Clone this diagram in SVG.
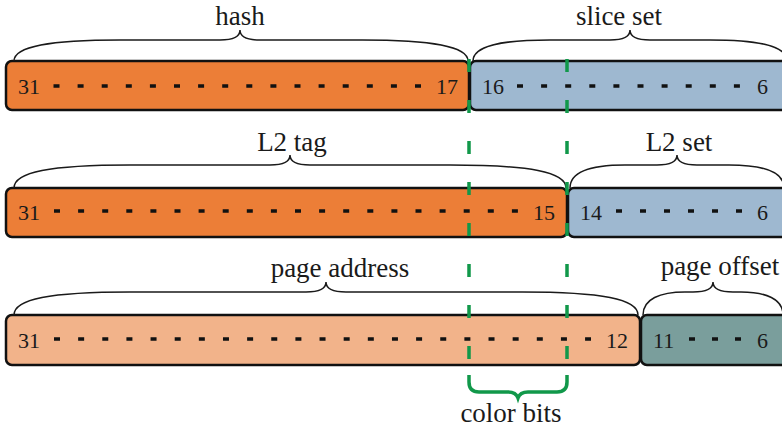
<svg xmlns="http://www.w3.org/2000/svg" width="782" height="427" viewBox="0 0 782 427">
<style>
text{font-family:'Liberation Serif','Times New Roman','DejaVu Serif',serif;fill:#1a1a1a}
.lbl{font-size:27px;text-anchor:middle}
.num{font-size:22px}
.box{stroke:#111;stroke-width:2.5}
.orange{fill:#EC7E37}
.blue{fill:#9EB8D0}
.salmon{fill:#F2B38A}
.teal{fill:#7A9E9C}
.dots{stroke:#111;stroke-width:3.5;stroke-dasharray:6 18.1;fill:none}
.brace{fill:none;stroke:#1a1a1a;stroke-width:1.5}
.green{stroke:#11984A;stroke-width:3.5;fill:none}
</style>
<rect width="782" height="427" fill="#fff"/>
<g id="row1-hash">
<rect class="box orange" x="6" y="61" width="463" height="49" rx="6"/>
<text class="num" x="18" y="94" font-family="Liberation Serif, serif">31</text>
<line class="dots" x1="53.5" y1="86" x2="421.5" y2="86"/>
<text class="num" x="458" y="94" text-anchor="end" font-family="Liberation Serif, serif">17</text>
<path class="brace" d="M14,61 C14,46 50,40 120,40 L220,40 C234,40 240,36 240,30 C240,36 246,40 260,40 L362,40 C432,40 468,46 468,61"/>
<text class="lbl" x="240" y="25" font-family="Liberation Serif, serif">hash</text>
</g>
<g id="row1-sliceset">
<rect class="box blue" x="470" y="61" width="320" height="49" rx="6"/>
<text class="num" x="482" y="94" font-family="Liberation Serif, serif">16</text>
<line class="dots" x1="517" y1="86" x2="740" y2="86"/>
<text class="num" x="768" y="94" text-anchor="end" font-family="Liberation Serif, serif">6</text>
<path class="brace" d="M473,61 C473,46 500,40 550,40 L610,40 C624,40 630,36 630,30 C630,36 636,40 650,40 L710,40 C760,40 787,46 787,61"/>
<text class="lbl" x="619" y="25" font-family="Liberation Serif, serif">slice set</text>
</g>
<g id="row2-l2tag">
<rect class="box orange" x="6" y="188" width="561" height="49" rx="6"/>
<text class="num" x="18" y="220" font-family="Liberation Serif, serif">31</text>
<line class="dots" x1="54" y1="211" x2="518" y2="211"/>
<text class="num" x="555" y="220" text-anchor="end" font-family="Liberation Serif, serif">15</text>
<path class="brace" d="M14,188 C14,172 50,165 130,165 L270,165 C284,165 290,161 290,155 C290,161 296,165 310,165 L450,165 C530,165 566,172 566,188"/>
<text class="lbl" x="292" y="151" font-family="Liberation Serif, serif">L2 tag</text>
</g>
<g id="row2-l2set">
<rect class="box blue" x="568" y="188" width="222" height="49" rx="6"/>
<text class="num" x="580" y="220" font-family="Liberation Serif, serif">14</text>
<line class="dots" x1="616" y1="211" x2="742" y2="211" style="stroke-dasharray:6 18"/>
<text class="num" x="768" y="220" text-anchor="end" font-family="Liberation Serif, serif">6</text>
<path class="brace" d="M570,188 C570,172 590,165 625,165 L657,165 C671,165 677,161 677,155 C677,161 683,165 697,165 L729,165 C764,165 784,172 784,188"/>
<text class="lbl" x="679" y="151" font-family="Liberation Serif, serif">L2 set</text>
</g>
<g id="row3-pageaddress">
<rect class="box salmon" x="6" y="315" width="634" height="50" rx="6"/>
<text class="num" x="18" y="348" font-family="Liberation Serif, serif">31</text>
<line class="dots" x1="54" y1="339" x2="591" y2="339" style="stroke-dasharray:6 18.14"/>
<text class="num" x="628" y="348" text-anchor="end" font-family="Liberation Serif, serif">12</text>
<path class="brace" d="M14,315 C14,299 50,292 130,292 L306,292 C320,292 326,288 326,282 C326,288 332,292 346,292 L522,292 C602,292 638,299 638,315"/>
<text class="lbl" x="340" y="277" font-family="Liberation Serif, serif">page address</text>
</g>
<g id="row3-pageoffset">
<rect class="box teal" x="641" y="315" width="149" height="50" rx="6"/>
<text class="num" x="653" y="348" font-family="Liberation Serif, serif">11</text>
<line class="dots" x1="689" y1="339" x2="741" y2="339" style="stroke-dasharray:6 17"/>
<text class="num" x="768" y="348" text-anchor="end" font-family="Liberation Serif, serif">6</text>
<path class="brace" d="M643,315 C643,299 660,292 685,292 L693,292 C707,292 713,288 713,282 C713,288 719,292 733,292 L741,292 C766,292 783,299 783,315"/>
<text class="lbl" x="720" y="275" font-family="Liberation Serif, serif">page offset</text>
</g>
<g id="connectors">
<line class="green" x1="469" y1="59" x2="469" y2="362" style="stroke-dasharray:13 28"/>
<line class="green" x1="567" y1="59" x2="567" y2="362" style="stroke-dasharray:13 28"/>
</g>
<g id="colorbits">
<path class="green" stroke-width="3" d="M469,375 L469,382 Q469,392 479,392 L508,392 Q516,392 518,398 Q520,392 528,392 L557,392 Q567,392 567,382 L567,375"/>
<text class="lbl" x="511" y="422" font-family="Liberation Serif, serif">color bits</text>
</g>
</svg>
